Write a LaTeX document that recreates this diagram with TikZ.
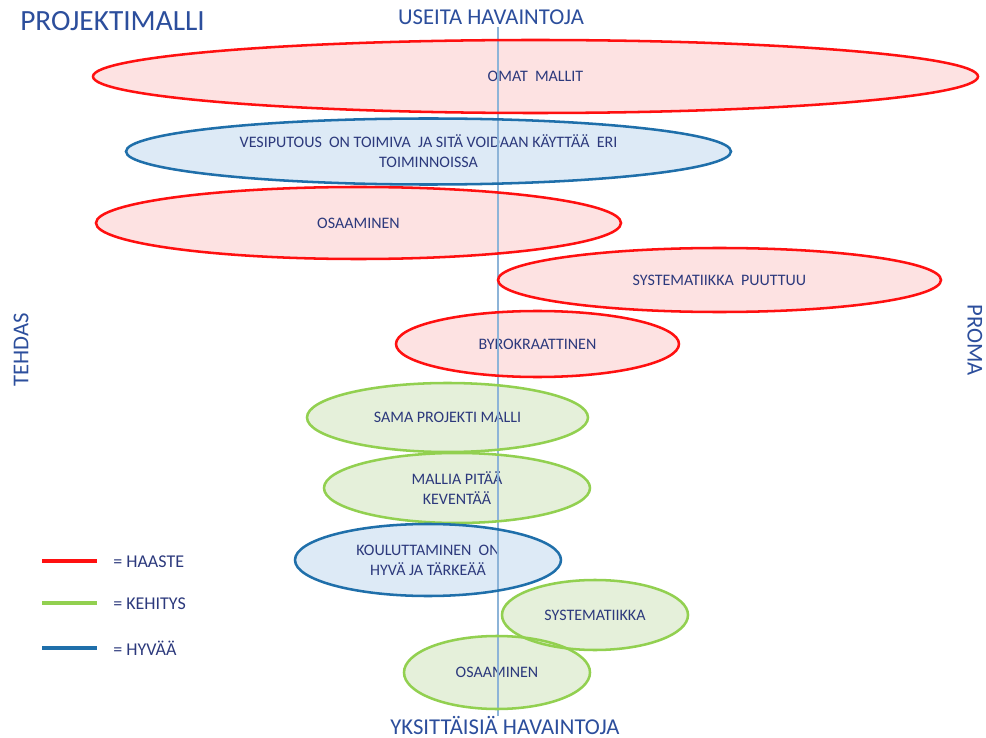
\documentclass[tikz,border=0pt]{standalone}
\usepackage{fontspec}
\setmainfont{Carlito}
\usetikzlibrary{shapes.geometric,calc}

\definecolor{haasteline}{HTML}{FF1010}
\definecolor{haastefill}{HTML}{FDE2E2}
\definecolor{kehitysline}{HTML}{92D050}
\definecolor{kehitysfill}{HTML}{E5F0DA}
\definecolor{hyvaaline}{HTML}{1F6FAA}
\definecolor{hyvaafill}{HTML}{DDEAF6}
\definecolor{axisline}{HTML}{8DB4D8}
\definecolor{labeltext}{HTML}{2C397C}
\definecolor{headtext}{HTML}{2C4E9C}

\tikzset{
  cloud/.style={ellipse, inner sep=0pt, outer sep=0pt, draw=none,
    text=labeltext, align=center, font=\fontsize{12}{15}\selectfont},
  haaste/.style={cloud, fill=haastefill},
  kehitys/.style={cloud, fill=kehitysfill},
  hyvaa/.style={cloud, fill=hyvaafill},
  rim/.style={line width=1.9pt},
  axislabel/.style={text=headtext, inner sep=0pt, font=\fontsize{17}{19}\selectfont},
  legendtext/.style={text=labeltext, inner sep=0pt, anchor=west, font=\fontsize{13.5}{16}\selectfont},
  swatch/.style={line width=2.4pt},
}

\begin{document}
\begin{tikzpicture}[x=0.75pt, y=-0.75pt]
\useasboundingbox (0,0) rectangle (986,738);

% title and axis labels
\node[text=headtext, inner sep=0pt, anchor=west, font=\fontsize{22}{26}\selectfont] (title) at (20,21) {PROJEKTIMALLI};
\node[axislabel] (useita) at (491,17) {USEITA HAVAINTOJA};
\node[axislabel] (yksitt) at (505,725) {YKSITTÄISIÄ HAVAINTOJA};
\node[axislabel, rotate=90] (tehdas) at (21,350) {TEHDAS};
\node[axislabel, rotate=-90] (proma) at (975,340) {PROMA};

% observation clouds (fills and texts)
\node[haaste, minimum width=663.75pt, minimum height=54.75pt] (omat) at (535.5,76.5) {OMAT\ \ MALLIT};
\node[hyvaa, minimum width=453.75pt, minimum height=49.5pt] (vesi) at (428.5,151.5) {VESIPUTOUS\ \ ON TOIMIVA\ \ JA SITÄ VOIDAAN\ KÄYTTÄÄ\ \ ERI\\TOIMINNOISSA};
\node[haaste, minimum width=393.75pt, minimum height=54pt] (osaa1) at (358.5,223) {OSAAMINEN};
\node[haaste, minimum width=332.25pt, minimum height=48pt] (syspuu) at (719.5,280) {SYSTEMATIIKKA\ \ PUUTTUU};
\node[haaste, minimum width=212.25pt, minimum height=49.5pt] (byro) at (537.5,344) {BYROKRAATTINEN};
\node[kehitys, minimum width=210.75pt, minimum height=51.75pt] (sama) at (447.5,417.5) {SAMA PROJEKTI MALLI};
\node[kehitys, minimum width=199.5pt, minimum height=52.5pt] (mallia) at (457,488) {MALLIA PITÄÄ\\KEVENTÄÄ};
\node[hyvaa, minimum width=199.5pt, minimum height=54pt] (koulu) at (428,560) {KOULUTTAMINEN\ \ ON\\HYVÄ JA TÄRKEÄÄ};
\node[kehitys, minimum width=139.5pt, minimum height=52.5pt] (sys) at (595,615) {SYSTEMATIIKKA};
\node[kehitys, minimum width=139.5pt, minimum height=54.75pt] (osaa2) at (497,672.5) {OSAAMINEN};

% vertical axis
\coordinate (axtop) at (498,27);
\coordinate (axbot) at (498,716);
\draw[axisline, line width=0.9pt] (axtop) -- (axbot);

% cloud outlines, drawn over all fills
\foreach \nm/\col in {omat/haasteline, vesi/hyvaaline, osaa1/haasteline,
                   syspuu/haasteline, byro/haasteline, sama/kehitysline,
                   mallia/kehitysline, koulu/hyvaaline, sys/kehitysline,
                   osaa2/kehitysline}
  \draw[rim, draw=\col]
    let \p1 = ($(\nm.east)-(\nm.center)$), \p2 = ($(\nm.north)-(\nm.center)$) in
    (\nm.center) ellipse [x radius=\x1, y radius=\y2];

% legend
\coordinate (l1a) at (42,561); \coordinate (l1b) at (97,561);
\coordinate (l2a) at (42,603); \coordinate (l2b) at (97,603);
\coordinate (l3a) at (42,648); \coordinate (l3b) at (97,648);
\draw[swatch, haasteline] (l1a) -- (l1b);
\draw[swatch, kehitysline] (l2a) -- (l2b);
\draw[swatch, hyvaaline] (l3a) -- (l3b);
\node[legendtext] (lg1) at (113,562) {= HAASTE};
\node[legendtext] (lg2) at (113,604) {= KEHITYS};
\node[legendtext] (lg3) at (113,648) {= HYVÄÄ};
\end{tikzpicture}
\end{document}
